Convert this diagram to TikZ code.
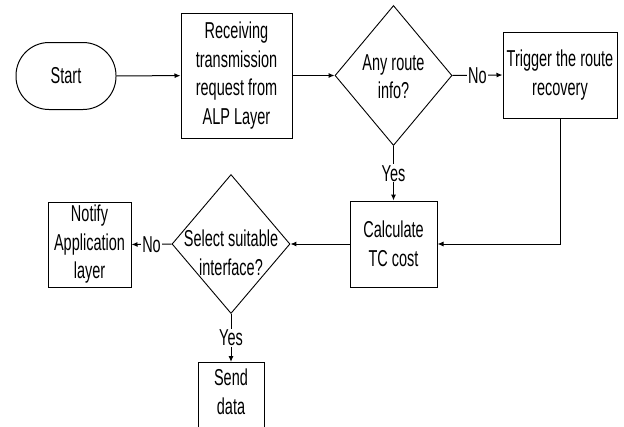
\documentclass[tikz,border=0pt]{standalone}
\usepackage{fontspec}
\setmainfont{Liberation Sans}[FakeStretch=0.63]
\usetikzlibrary{shapes.geometric,arrows.meta}
\begin{document}
\begin{tikzpicture}[x=1pt,y=-1pt,
  every node/.style={font=\fontsize{23}{28.5}\selectfont, text=black},
  stepbox/.style={draw, line width=1pt, rectangle, inner sep=0pt, align=center},
  terminal/.style={draw, line width=1pt, rectangle, rounded corners=33pt, inner sep=0pt, minimum width=100pt, minimum height=67pt},
  decision/.style={draw, line width=0.9pt, diamond, inner sep=0pt},
  flow/.style={line width=1pt, -{Latex[length=6pt,width=5pt]}},
  tag/.style={fill=white, inner sep=1pt}
]
\useasboundingbox (0,0) rectangle (624,426);
\clip (0,0) rectangle (624,426);

% process steps
\node[terminal] (start) at (66,76) {Start};
\node[stepbox, minimum width=111pt, minimum height=125pt] (recv) at (236.5,75.5)
  {Receiving\\transmission\\request from\\ALP Layer};
\node[decision, minimum width=117pt, minimum height=140pt,
  label={[align=center, yshift=-1pt]center:Any route\\info?}] (route) at (393.5,75.5) {};
\node[stepbox, minimum width=114pt, minimum height=86pt] (trig) at (560,75)
  {Trigger the route\\recovery};
\node[stepbox, minimum width=87pt, minimum height=86pt] (calc) at (393.5,244)
  {Calculate\\TC cost};
\node[decision, minimum width=118pt, minimum height=139pt,
  label={[align=center, yshift=-9pt]center:Select suitable\\interface?}] (sel) at (231,244) {};
\node[stepbox, minimum width=83pt, minimum height=85pt] (notify) at (89.5,244.5)
  {Notify\\Application\\layer};
\node[stepbox, minimum width=66pt, minimum height=80pt, anchor=north] (send) at (231,362) {};
\node[align=center] (sendtxt) at (231,392) {Send\\data};

% connectors
\draw[flow] (start) -- (recv);
\draw[flow] (recv) -- (route);
\draw[flow] (route.east) -- node[tag] {No} (trig.west);
\draw[flow] (route.south) -- node[tag] {Yes} (calc.north);
\draw[flow] (trig.south) |- (calc.east);
\draw[flow] (calc.west) -- (sel.east);
\draw[flow] (sel.west) -- node[tag] {No} (notify.east);
\draw[flow] (sel.south) -- node[tag] {Yes} (send.north);
\end{tikzpicture}
\end{document}
